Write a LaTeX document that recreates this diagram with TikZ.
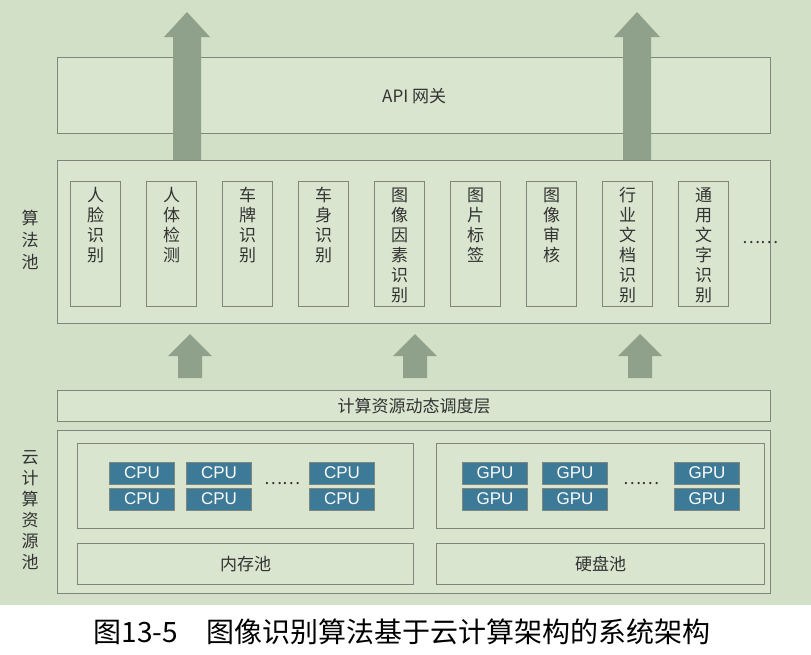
\documentclass[tikz,border=0pt]{standalone}
\usepackage{fontspec}
\setmainfont{Noto Sans CJK SC}
\newfontfamily\lat{Liberation Sans}
\definecolor{bg}{HTML}{D3E0C8}
\definecolor{bx}{HTML}{D9E5CF}
\definecolor{bd}{HTML}{7F877C}
\definecolor{chip}{HTML}{3C7A98}
\definecolor{arr}{HTML}{8FA08B}
\definecolor{tx}{HTML}{333333}
\begin{document}
\begin{tikzpicture}[x=1pt,y=-1pt,
  box/.style={draw=bd,fill=bx,line width=1.3pt},
  alg/.style={box,minimum width=50,minimum height=125,anchor=north west,inner sep=0pt},
  chipn/.style={fill=chip,draw=bd,line width=0.6pt,minimum width=65,minimum height=22,inner sep=0pt,text=white!90!bg,font=\lat\fontsize{17}{17}\selectfont},
  lbl/.style={text=tx,font=\fontsize{17}{20}\selectfont},
  up/.style={fill=arr,draw=none}]
\fill[white] (0,0) rectangle (811,654);
\fill[bg] (0,0) rectangle (811,605);
\useasboundingbox (0,0) rectangle (811,654);
% API
\node[box,minimum width=713,minimum height=76,anchor=north west,inner sep=0] (api) at (57,57) {};
\node[lbl] at (api.center) {API 网关};
% top arrows
\foreach \ax/\nm in {187/ua,637/ub}{
  \fill[up] (\ax-14,160) -- (\ax-14,37) -- (\ax-23,37) -- (\ax,12) -- (\ax+23,37) -- (\ax+14,37) -- (\ax+14,160) -- cycle;}
% algorithm pool
\node[box,minimum width=713,minimum height=163,anchor=north west,inner sep=0] (algp) at (57,160) {};
\fill[up] (173,160) rectangle (201,133);
\fill[up] (623,160) rectangle (651,133);
\node[lbl,align=center,font=\fontsize{17}{22}\selectfont] (algl) at (30,240) {算\\法\\池};
\foreach \i/\t in {0/人\\脸\\识\\别,1/人\\体\\检\\测,2/车\\牌\\识\\别,3/车\\身\\识\\别,4/图\\像\\因\\素\\识\\别,5/图\\片\\标\\签,6/图\\像\\审\\核,7/行\\业\\文\\档\\识\\别,8/通\\用\\文\\字\\识\\别}{
  \node[alg] (a\i) at (70+76*\i,181) {};
  \node[lbl,align=center,anchor=north,font=\fontsize{17}{20}\selectfont] at ([yshift=-3]a\i.north) {\t};}
\node[lbl] (dots1) at (760,243) {……};
% middle arrows
\foreach \ax in {190,415,640}{
  \fill[up] (\ax-12,378) -- (\ax-12,356) -- (\ax-22,356) -- (\ax,334) -- (\ax+22,356) -- (\ax+12,356) -- (\ax+12,378) -- cycle;}
% scheduling
\node[box,minimum width=713,minimum height=31,anchor=north west,inner sep=0] (sch) at (57,390) {};
\node[lbl] at (sch.center) {计算资源动态调度层};
% cloud pool
\node[box,minimum width=713,minimum height=163,anchor=north west,inner sep=0] (cloud) at (57,430) {};
\node[lbl,align=center,font=\fontsize{17}{21}\selectfont] (cl) at (30,510) {云\\计\\算\\资\\源\\池};
\node[box,minimum width=336,minimum height=85,anchor=north west,inner sep=0] (cpu) at (77,443) {};
\node[box,minimum width=328,minimum height=85,anchor=north west,inner sep=0] (gpu) at (436,443) {};
\node[box,minimum width=336,minimum height=41,anchor=north west,inner sep=0] (mem) at (77,543) {};
\node[box,minimum width=328,minimum height=41,anchor=north west,inner sep=0] (disk) at (436,543) {};
\node[lbl] at (mem.center) {内存池};
\node[lbl] at (disk.center) {硬盘池};
\foreach \x/\k in {142/a,219/b,342/c}{
  \node[chipn] (c\k1) at (\x,473) {CPU};
  \node[chipn] (c\k2) at (\x,499) {CPU};}
\foreach \x/\k in {495/a,575/b,707/c}{
  \node[chipn] (g\k1) at (\x,473) {GPU};
  \node[chipn] (g\k2) at (\x,499) {GPU};}
\node[lbl] (d2) at (282,484) {……};
\node[lbl] (d3) at (641,484) {……};
% caption
\node[font=\fontsize{28}{32}\selectfont] (cap) at (402,632) {图13-5\quad 图像识别算法基于云计算架构的系统架构};
\end{tikzpicture}
\end{document}
